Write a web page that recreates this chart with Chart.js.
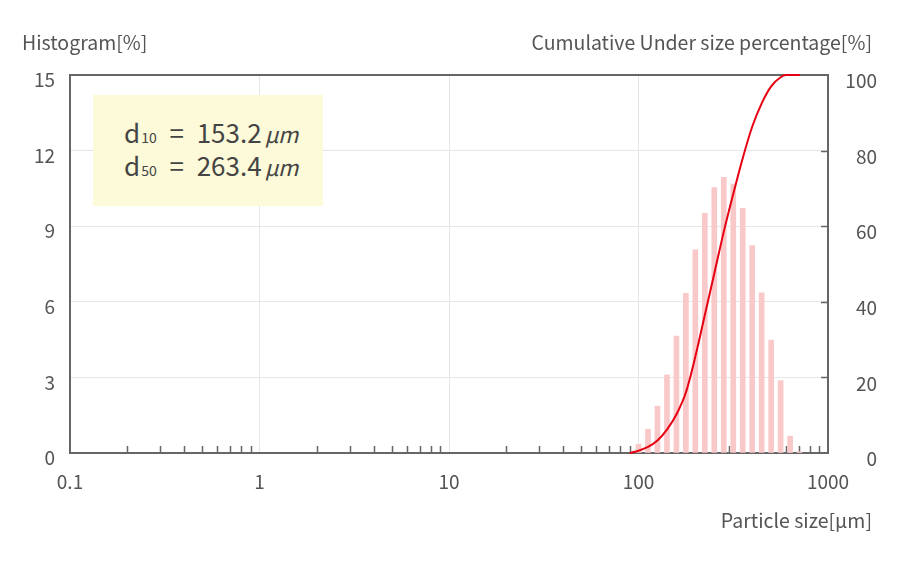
<!DOCTYPE html>
<html>
<head>
<meta charset="utf-8">
<script src="https://cdn.jsdelivr.net/npm/chart.js@4"></script>
<style>
  body { margin: 0; background: #fff; }
  #wrap { position: relative; width: 900px; height: 562px; font-family: 'Noto Sans CJK JP', 'Noto Sans', sans-serif; color: #555; }
  .lbl { position: absolute; font-size: 19.5px; line-height: 1; white-space: nowrap; }
  #memo { position: absolute; left: 93px; top: 95px; width: 230px; height: 111px; background: #fcfad8; color: #444; font-size: 26px; }
  #memo .row { position: absolute; left: 31px; white-space: nowrap; line-height: 1; }
  #memo sub { font-size: 14px; vertical-align: baseline; margin-left: 1px; }
  #memo .eq { display: inline-block; width: 40px; text-align: center; }
  #memo i { font-size: 22px; margin-left: 3px; letter-spacing: -0.5px; }
</style>
</head>
<body>
<div id="wrap">
  <canvas id="grafico"></canvas>
  <div class="lbl" style="left:22px; top:32px;">Histogram[%]</div>
  <div class="lbl" style="right:28px; top:32px;">Cumulative Under size percentage[%]</div>
  <div class="lbl" style="right:28px; top:510px;">Particle size[µm]</div>
  <div id="memo">
    <div class="row" style="top:24px;">d<sub>10</sub><span class="eq">=</span>153.2<i>µm</i></div>
    <div class="row" style="top:57px;">d<sub>50</sub><span class="eq">=</span>263.4<i>µm</i></div>
  </div>
</div>
<script>
// eixo x (tamanho de particula, log)
const xTicks = [0.1, 1, 10, 100, 1000];

// histograma [%]
const tamanhos = [100, 112.2, 125.9, 141.3, 158.5, 177.8, 199.5, 223.9, 251.2, 281.8, 316.2, 354.8, 398.1, 446.7, 501.2, 562.3, 631.0, 707.9];
const histograma = [0.35, 0.94, 1.86, 3.1, 4.64, 6.34, 8.06, 9.51, 10.53, 10.94, 10.67, 9.71, 8.23, 6.36, 4.48, 2.87, 0.67, 0.05];

// curva acumulada [%]
const tamanhosAcum = [90, 100, 112.2, 125.9, 141.3, 158.5, 177.8, 199.5, 223.9, 251.2, 281.8, 316.2, 354.8, 398.1, 446.7, 501.2, 562.3, 600, 710];
const acumulado = [0, 0.6, 1.6, 3.3, 6.2, 10.2, 16, 25.5, 36.5, 47.5, 58.5, 68.5, 78, 86.3, 92.5, 97, 99.4, 100, 100];

const yTicksEsq = [0, 3, 6, 9, 12, 15];
const yTicksDir = [0, 20, 40, 60, 80, 100];

Chart.defaults.font.family = "'Noto Sans CJK JP', 'Noto Sans', sans-serif";
Chart.defaults.font.size = 19;
Chart.defaults.color = '#555';

// moldura + tracos internos (antes dos dados, a curva fica por cima)
const molduraPlugin = {
  id: 'moldura',
  beforeDatasetsDraw(chart) {
    const { ctx, chartArea: a, scales } = chart;
    ctx.save();
    ctx.strokeStyle = '#666';
    ctx.lineWidth = 1.5;
    // tracos menores no eixo x
    ctx.beginPath();
    for (let d = 0; d < xTicks.length - 1; d++) {
      for (let m = 2; m <= 9; m++) {
        const px = Math.round(scales.x.getPixelForValue(xTicks[d] * m)) + 0.5;
        ctx.moveTo(px, a.bottom);
        ctx.lineTo(px, a.bottom - 7);
      }
    }
    // tracos no eixo direito
    yTicksDir.slice(1, -1).forEach(v => {
      const py = Math.round(scales.y2.getPixelForValue(v)) + 0.5;
      ctx.moveTo(a.right, py);
      ctx.lineTo(a.right - 7, py);
    });
    ctx.stroke();
    ctx.lineWidth = 2;
    ctx.strokeRect(a.left, a.top, a.right - a.left, a.bottom - a.top);
    ctx.restore();
  }
};

const ctx = document.getElementById('grafico');
new Chart(ctx, {
  type: 'bar',
  data: {
    datasets: [
      {
        type: 'line',
        label: 'Cumulative',
        data: tamanhosAcum.map((t, i) => ({ x: t, y: acumulado[i] })),
        yAxisID: 'y2',
        borderColor: '#e60012',
        borderWidth: 2,
        pointRadius: 0,
        cubicInterpolationMode: 'monotone',
        clip: 4,
        fill: false
      },
      {
        type: 'bar',
        label: 'Histogram',
        data: tamanhos.map((t, i) => ({ x: t, y: histograma[i] })),
        yAxisID: 'y',
        backgroundColor: '#f9c9c9',
        barThickness: 5
      }
    ]
  },
  options: {
    responsive: true,
    maintainAspectRatio: false,
    animation: false,
    layout: { padding: { top: 75, left: 0, right: 23, bottom: 0 } },
    plugins: { legend: { display: false }, tooltip: { enabled: false } },
    scales: {
      x: {
        type: 'logarithmic',
        min: 0.1,
        max: 1000,
        offset: false,
        afterBuildTicks: s => { s.ticks = xTicks.map(v => ({ value: v })); },
        afterFit: s => { s.height = 109; },
        grid: { color: '#e6e6e6', drawTicks: false, offset: false },
        border: { display: false },
        ticks: {
          padding: 17,
          autoSkip: false,
          maxRotation: 0,
          callback: v => String(v)
        }
      },
      y: {
        position: 'left',
        min: 0,
        max: 15,
        afterBuildTicks: s => { s.ticks = yTicksEsq.map(v => ({ value: v })); },
        afterFit: s => { s.width = 70; },
        grid: { color: '#e6e6e6', drawTicks: false },
        border: { display: false },
        ticks: { padding: 15, labelOffset: 5 }
      },
      y2: {
        position: 'right',
        min: 0,
        max: 100,
        afterBuildTicks: s => { s.ticks = yTicksDir.map(v => ({ value: v })); },
        afterFit: s => { s.width = 49; },
        grid: { drawOnChartArea: false, drawTicks: false },
        border: { display: false },
        ticks: { padding: 14, crossAlign: 'far', labelOffset: 6 }
      }
    }
  },
  plugins: [molduraPlugin]
});
</script>
</body>
</html>
